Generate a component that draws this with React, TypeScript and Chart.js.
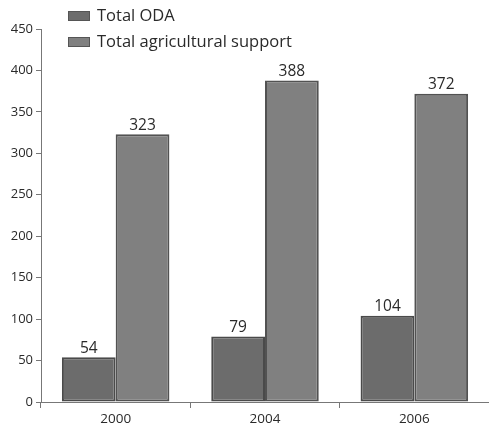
import React, { useEffect, useRef } from "react";
import { Chart, registerables } from "chart.js";

Chart.register(...registerables);

const categories = ["2000", "2004", "2006"];
const odaValues = [54, 79, 104];
const agriValues = [323, 388, 372];
const seriesNames = ["Total ODA", "Total agricultural support"];
const yTicks = [0, 50, 100, 150, 200, 250, 300, 350, 400, 450];

const FONT = "'Open Sans', 'DejaVu Sans', sans-serif";

const valueLabels = {
  id: "valueLabels",
  afterDatasetsDraw(chart: any) {
    const ctx = chart.ctx;
    ctx.save();
    ctx.font = `15.5px ${FONT}`;
    ctx.fillStyle = "#2a2a2a";
    ctx.textAlign = "center";
    ctx.textBaseline = "bottom";
    chart.data.datasets.forEach((ds: any, i: number) => {
      const meta = chart.getDatasetMeta(i);
      meta.data.forEach((bar: any, j: number) => {
        ctx.fillText(String(ds.data[j]), bar.x, bar.y - 1);
      });
    });
    ctx.restore();
  },
};

const customLegend = {
  id: "customLegend",
  afterDraw(chart: any) {
    const ctx = chart.ctx;
    ctx.save();
    ctx.font = `16.5px ${FONT}`;
    ctx.textBaseline = "middle";
    chart.data.datasets.forEach((ds: any, i: number) => {
      const y = 16 + i * 26;
      ctx.fillStyle = ds.backgroundColor;
      ctx.fillRect(68, y - 5, 22, 10);
      ctx.strokeStyle = "#555";
      ctx.lineWidth = 1;
      ctx.strokeRect(68.5, y - 4.5, 21, 9);
      ctx.fillStyle = "#2a2a2a";
      ctx.fillText(ds.label, 97, y);
    });
    ctx.restore();
  },
};

export default function App() {
  const ref = useRef<HTMLCanvasElement>(null);
  useEffect(() => {
    if (!ref.current) return;
    const chart = new Chart(ref.current, {
      type: "bar",
      data: {
        labels: categories,
        datasets: [
          {
            label: seriesNames[0],
            data: odaValues,
            backgroundColor: "#6c6c6c",
            borderColor: "#4a4a4a",
            borderWidth: 2,
            borderSkipped: false,
          },
          {
            label: seriesNames[1],
            data: agriValues,
            backgroundColor: "#808080",
            borderColor: "#525252",
            borderWidth: 2,
            borderSkipped: false,
          },
        ],
      },
      options: {
        animation: false,
        responsive: false,
        maintainAspectRatio: false,
        layout: { padding: { top: 29, right: 0, left: 0, bottom: 0 } },
        plugins: {
          legend: { display: false },
          tooltip: { enabled: false },
        },
        datasets: {
          bar: { categoryPercentage: 0.72, barPercentage: 1 },
        },
        scales: {
          x: {
            grid: {
              offset: true,
              drawOnChartArea: false,
              drawTicks: true,
              tickLength: 6,
              color: "#777",
            },
            border: { display: true, color: "#777", width: 1 },
            ticks: { color: "#2a2a2a", font: { family: FONT, size: 13.5 }, padding: 3 },
            afterFit(scale: any) {
              scale.height = 29;
            },
          },
          y: {
            min: 0,
            max: 450,
            afterBuildTicks(scale: any) {
              scale.ticks = yTicks.map((v) => ({ value: v }));
            },
            grid: {
              drawOnChartArea: false,
              drawTicks: true,
              tickLength: 5,
              color: "#777",
            },
            border: { display: true, color: "#777", width: 1 },
            ticks: { color: "#2a2a2a", font: { family: FONT, size: 13 }, padding: 3 },
            afterFit(scale: any) {
              scale.width = 41;
            },
          },
        },
      },
      plugins: [valueLabels, customLegend],
    });
    return () => chart.destroy();
  }, []);
  return (
    <div style={{ position: "fixed", left: 0, top: 0, width: 489, height: 431, background: "#fff" }}>
      <canvas ref={ref} width={489} height={431} style={{ width: 489, height: 431, display: "block" }} />
    </div>
  );
}
